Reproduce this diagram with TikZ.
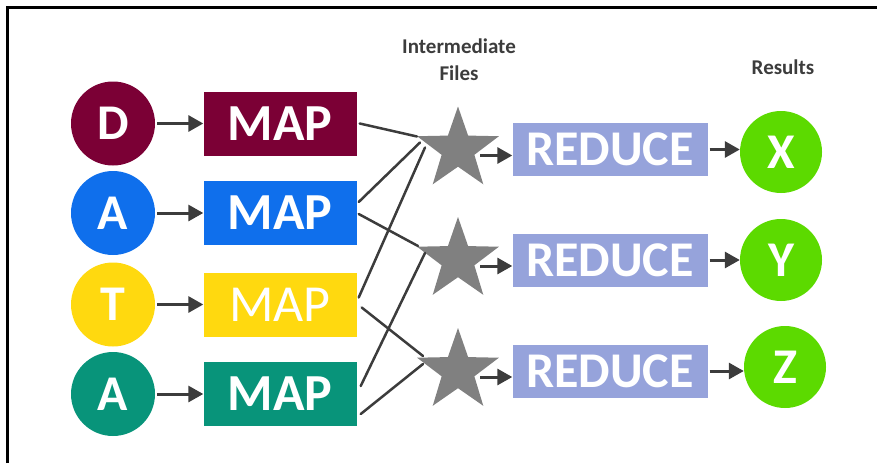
\documentclass[tikz,border=0pt]{standalone}
\usepackage{fontspec}
\setmainfont{Carlito}
\usepackage{xcolor}
\usepackage{tikz}
\usetikzlibrary{shapes,arrows.meta,positioning,calc}
\definecolor{mapred}{HTML}{7B0035}
\definecolor{mapblue}{HTML}{0F6FEC}
\definecolor{mapyellow}{HTML}{FFD90F}
\definecolor{mapteal}{HTML}{08947A}
\definecolor{filegray}{HTML}{808080}
\definecolor{redblue}{HTML}{96A3DB}
\definecolor{resgreen}{HTML}{5CDA00}
\definecolor{wire}{HTML}{3C3C3C}

\begin{document}
\begin{tikzpicture}[x=1pt, y=-1pt,
    letter/.style={circle, minimum size=84pt, inner sep=0pt, text=white, font=\fontsize{50}{50}\selectfont\bfseries},
    mapbox/.style={minimum width=153pt, minimum height=64pt, inner sep=0pt, text=white},
    redbox/.style={fill=redblue, minimum width=195pt, minimum height=53pt, inner sep=0pt, text=white, font=\fontsize{50}{50}\selectfont\bfseries},
    file/.style={star, star points=5, star point ratio=2.5, minimum size=86pt, inner sep=0pt, fill=filegray},
    arr/.style={draw=wire, line width=3pt, -{Triangle[length=15pt,width=16pt]}, shorten <=2pt},
    link/.style={draw=wire, line width=2.5pt, line cap=round},
    title/.style={text=wire, align=center, font=\fontsize{21}{27}\selectfont\bfseries}]
    \useasboundingbox (0,0) rectangle (877,463);
    \draw[line width=3pt] (7,463) -- (7,7) -- (877,7);

    % input letters and map tasks
    \foreach \i/\ch/\col/\y/\wt in {1/D/mapred/123.5/\bfseries, 2/A/mapblue/213/\bfseries, 3/T/mapyellow/304.5/\mdseries, 4/A/mapteal/394/\bfseries} {
        \node[letter, fill=\col] (c\i) at (113,\y) {\ch};
        \node[mapbox, fill=\col, font=\fontsize{52}{52}\selectfont\wt] (m\i) at (280,\y) {MAP};
        \draw[arr] (c\i) -- (m\i);
    }

    % intermediate files, reduce tasks and results
    \foreach \i/\ch/\y/\ox/\oy in {1/X/149.5/781/152, 2/Y/260/781/260, 3/Z/371/785/367} {
        \node[file] (s\i) at (458,\y) {};
        \node[redbox] (r\i) at (610,\y) {REDUCE};
        \node[letter, fill=resgreen, minimum size=82pt] (o\i) at (\ox,\oy) {\ch};
        \draw[arr] ($(s\i)+(20,6)$) -- ($(r\i.west)+(0,6)$);
        \draw[arr] (r\i.east) -- (r\i.east -| o\i.west);
    }

    % shuffle
    \draw[link] ($(m1.east)+(3,0)$) -- ($(s1)+(-41,-13)$);
    \draw[link] ($(m2.east)+(2,-11)$) -- ($(s1)+(-38,-7)$);
    \draw[link] ($(m3.east)+(2,-7)$) -- ($(s1)+(-33,-2)$);
    \draw[link] ($(m2.east)+(2,1)$) -- ($(s2)+(-40,-14)$);
    \draw[link] ($(m4.east)+(4,-8)$) -- ($(s2)+(-33,-7)$);
    \draw[link] ($(m3.east)+(5,3)$) -- ($(s3)+(-35,-15)$);
    \draw[link] ($(m4.east)+(4,20)$) -- ($(s3)+(-35,-7)$);

    \node[title] (inter) at (459,60) {Intermediate\\Files};
    \node[title] (res) at (783,67) {Results};
\end{tikzpicture}
\end{document}
